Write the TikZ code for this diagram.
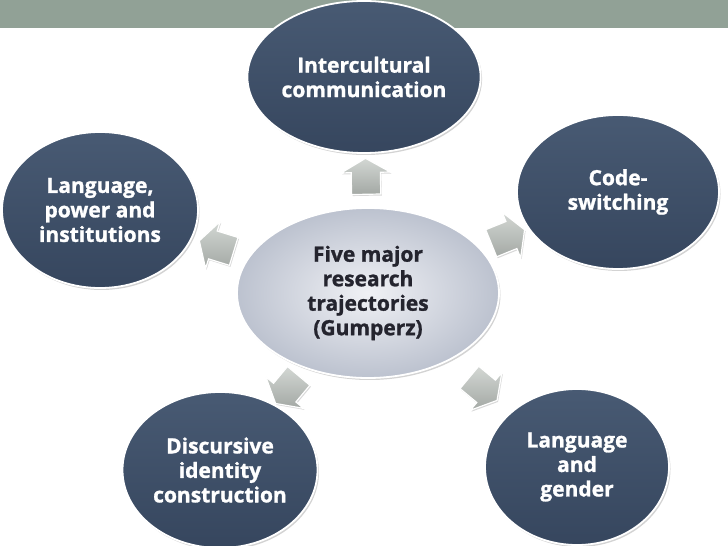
\documentclass[tikz,border=0pt]{standalone}
\usepackage{fontspec}
\setsansfont{Open Sans}[BoldFeatures={FakeBold=1.2}]
\usepackage{tikz}
\usetikzlibrary{shapes.geometric, shapes.arrows, shadows, positioning, calc}
\definecolor{mybar}{RGB}{145,161,150}
\definecolor{myslatehi}{RGB}{72,90,115}
\definecolor{myslatelo}{RGB}{54,70,94}
\definecolor{myhubin}{RGB}{240,241,245}
\definecolor{myhubout}{RGB}{188,194,207}
\definecolor{myhubtext}{RGB}{36,36,46}
\definecolor{mygrey}{RGB}{192,198,193}
\tikzset{
  topic/.style={ellipse, draw=white, line width=1.8pt,
    top color=myslatehi, bottom color=myslatelo, text=white,
    font=\sffamily\bfseries\fontsize{21}{24.5}\selectfont, align=center,
    inner sep=0pt, drop shadow={shadow xshift=1.5pt, shadow yshift=-2pt,
    opacity=.35}},
  hub/.style={ellipse, draw=white, line width=1.8pt,
    inner color=myhubin, outer color=myhubout, text=myhubtext,
    font=\sffamily\bfseries\fontsize{21}{24.5}\selectfont, align=center,
    inner sep=0pt, minimum width=262pt, minimum height=170pt,
    drop shadow={shadow xshift=1.5pt, shadow yshift=-2pt, opacity=.35}},
  blockarrow/.style={single arrow, draw=white, line width=1.2pt,
    top color=mygrey!70!white, bottom color=mygrey!85!black,
    minimum height=36pt, inner xsep=0pt, inner ysep=14pt,
    single arrow head extend=10pt, single arrow tip angle=120,
    drop shadow={shadow xshift=1pt, shadow yshift=-1.5pt, opacity=.3}}
}
\begin{document}
\begin{tikzpicture}[x=1pt, y=1pt]
  \useasboundingbox (0,0) rectangle (728,546);
  \clip (0,0) rectangle (728,546);
  % title bar
  \fill[mybar] (0,518) rectangle (728,546);
  % the five trajectories
  \node[topic, minimum width=212pt, minimum height=152pt] (intercult) at (364,469)
    {Intercultural\\communication};
  \node[topic, minimum width=196pt, minimum height=156pt] (power) at (100,336)
    {Language,\\power and\\institutions};
  \node[topic, minimum width=202pt, minimum height=154pt] (codesw) at (618,354)
    {Code-\\switching};
  \node[topic, minimum width=195pt, minimum height=156pt] (identity) at (220,76)
    {Discursive\\identity\\construction};
  \node[topic, minimum width=184pt, minimum height=156pt] (gender) at (577,79)
    {Language\\and\\gender};
  % centre
  \node[hub] (five) at (368,253)
    {Five major\\research\\trajectories\\(Gumperz)};
  % arrows out of the centre
  \foreach \t in {intercult, power, codesw, identity, gender}
    \path (five) -- node[pos=.5, sloped, allow upside down, blockarrow] {} (\t);
\end{tikzpicture}
\end{document}
